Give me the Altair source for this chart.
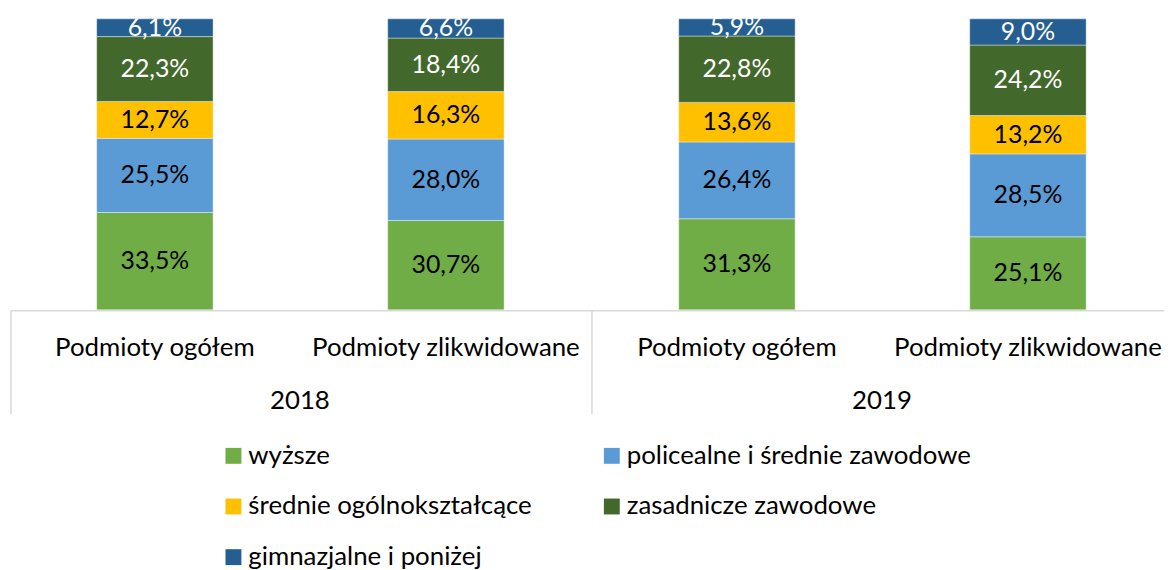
import altair as alt
import pandas as pd

years = ["2018", "2018", "2019", "2019"]
groups = ["Podmioty ogółem", "Podmioty zlikwidowane", "Podmioty ogółem", "Podmioty zlikwidowane"]
levels = ["wyższe", "policealne i średnie zawodowe", "średnie ogólnokształcące",
          "zasadnicze zawodowe", "gimnazjalne i poniżej"]
colors = ["#70AD47", "#5B9BD5", "#FFC000", "#43682B", "#255E91"]
text_colors = ["#000000", "#000000", "#000000", "#FFFFFF", "#FFFFFF"]

v_wyzsze = [33.5, 30.7, 31.3, 25.1]
v_policealne = [25.5, 28.0, 26.4, 28.5]
v_srednie = [12.7, 16.3, 13.6, 13.2]
v_zasadnicze = [22.3, 18.4, 22.8, 24.2]
v_gimnazjalne = [6.1, 6.6, 5.9, 9.0]
series = [v_wyzsze, v_policealne, v_srednie, v_zasadnicze, v_gimnazjalne]

keys = [f"{y} {g}" for y, g in zip(years, groups)]

rows = []
for li, (lvl, vals) in enumerate(zip(levels, series)):
    for k, y, g, v in zip(keys, years, groups, vals):
        rows.append({"key": k, "year": y, "group": g, "level": lvl, "order": li,
                     "value": v, "label": f"{v:.1f}%".replace(".", ","),
                     "tcolor": text_colors[li]})
df = pd.DataFrame(rows)
cat_df = pd.DataFrame({"key": keys, "group": groups})
year_df = pd.DataFrame({"key": [keys[0], keys[2]], "year": ["2018", "2019"]})

FONT = "Lato"
FS = 26
FS_VAL = 25
W, H = 1161, 293
GRID = "#D9D9D9"

xscale = alt.Scale(domain=keys, paddingInner=0.6, paddingOuter=0.281, align=0.524)

base = alt.Chart(df).transform_stack(
    stack="value", groupby=["key"], as_=["y0", "y1"], offset="normalize",
    sort=[alt.SortField("order", order="ascending")]
).transform_calculate(mid="(datum.y0 + datum.y1) / 2")

yscale = alt.Scale(domain=[0, 1])

bars = base.mark_bar(stroke="#FFFFFF", strokeWidth=0.4).encode(
    x=alt.X("key:N", scale=xscale, axis=None),
    y=alt.Y("y0:Q", scale=yscale, axis=None),
    y2="y1:Q",
    color=alt.Color("level:N", scale=alt.Scale(domain=levels, range=colors),
                    legend=alt.Legend(title=None, orient="none", legendX=211, legendY=427,
                                      direction="horizontal", columns=2,
                                      symbolType="square", symbolSize=256,
                                      symbolStrokeWidth=0, labelFont=FONT, labelFontSize=FS,
                                      labelColor="#000000", labelOffset=2, rowPadding=25,
                                      columnPadding=67, labelLimit=500)),
    order=alt.Order("order:Q"),
)

labels = base.mark_text(font=FONT, fontSize=FS_VAL, baseline="middle", align="center").encode(
    x=alt.X("key:N", scale=xscale, axis=None),
    y=alt.Y("mid:Q", scale=yscale, axis=None),
    text="label:N",
    fill=alt.Fill("tcolor:N", scale=None),
)

cat_labels = alt.Chart(cat_df).mark_text(font=FONT, fontSize=FS, baseline="middle",
                                         align="center", color="#000000").encode(
    x=alt.X("key:N", scale=xscale, axis=None),
    y=alt.value(331),
    text="group:N",
)

year_labels = alt.Chart(year_df).mark_text(font=FONT, fontSize=FS, baseline="middle",
                                           align="center", color="#000000", dx=146).encode(
    x=alt.X("key:N", scale=xscale, axis=None),
    y=alt.value(385),
    text="year:N",
)

sep_df = pd.DataFrame({"k": [0]})
axis_line = alt.Chart(sep_df).mark_rule(color=GRID, strokeWidth=1.5).encode(
    x=alt.value(0), x2=alt.value(W), y=alt.value(H + 1))
sep1 = alt.Chart(sep_df).mark_rule(color=GRID, strokeWidth=1.5).encode(
    x=alt.value(0), y=alt.value(H + 1), y2=alt.value(398))
sep2 = alt.Chart(sep_df).mark_rule(color=GRID, strokeWidth=1.5).encode(
    x=alt.value(585), y=alt.value(H + 1), y2=alt.value(398))

chart = alt.layer(bars, labels, cat_labels, year_labels, axis_line, sep1, sep2).properties(
    width=W, height=H,
    autosize=alt.AutoSizeParams(type="none"),
    padding={"left": 3, "top": 9, "right": 0, "bottom": 260},
    background="#FFFFFF",
).configure_view(stroke=None)

chart.save("out.html", embed_options={"renderer": "svg", "actions": False})
